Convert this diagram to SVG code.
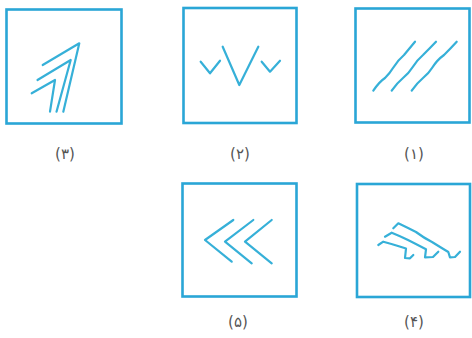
<svg xmlns="http://www.w3.org/2000/svg" width="472" height="338" viewBox="0 0 472 338">
<style>
.box{fill:#fff;stroke:#2aa6d6;stroke-width:2.6}
.ln{fill:none;stroke:#36b0d8;stroke-width:2.2;stroke-linecap:round;stroke-linejoin:round}
.lbl{font-family:"DejaVu Sans","Noto Sans",sans-serif;font-size:15px;fill:#555;text-anchor:middle}
</style>
<rect width="472" height="338" fill="#fff"/>
<g id="fig3">
<rect class="box" x="6.5" y="9.5" width="115" height="114"/>
<path class="ln" d="M42.7,65 L79.3,43.3 L63.3,111.7"/>
<path class="ln" d="M37.5,80 L70.7,60 L56.5,111.7"/>
<path class="ln" d="M31.7,93.3 L55,80 L50,111.7"/>
<text class="lbl" x="65" y="159">(۳)</text>
</g>
<g id="fig2">
<rect class="box" x="183.5" y="8" width="113" height="115"/>
<path class="ln" d="M200.7,61.7 L210,73.3 L220,60.7"/>
<path class="ln" d="M222.7,46.7 L239.3,85 L258.3,46.7"/>
<path class="ln" d="M261.7,61.7 L270,71.7 L280,60.7"/>
<text class="lbl" x="240" y="159">(۲)</text>
</g>
<g id="fig1">
<rect class="box" x="355.5" y="8.5" width="114" height="114"/>
<path class="ln" d="M373.3,90.7 Q379,82 385,78 Q390,73 393,68 Q398,60 404,55 Q409,49 415,41.7"/>
<path class="ln" d="M391.7,90.7 Q397,83 403,78 Q409,73 412,68 Q417,60 423,55 Q429,49 436,41.7"/>
<path class="ln" d="M411.7,90.7 Q417,83 423,78 Q429,73 432,68 Q437,60 444,55 Q450,49 456.7,41.7"/>
<text class="lbl" x="414" y="159">(۱)</text>
</g>
<g id="fig5">
<rect class="box" x="182.5" y="183.5" width="114" height="113"/>
<path class="ln" d="M233.3,220 L205,240 L231.7,261.7"/>
<path class="ln" d="M253.3,220 L225,241.7 L251.7,263.3"/>
<path class="ln" d="M271.7,220 L245,241.7 L271.7,263.3"/>
<text class="lbl" x="238" y="327">(۵)</text>
</g>
<g id="fig4">
<rect class="box" x="357" y="184" width="113" height="113"/>
<path class="ln" d="M378.3,245 L383.3,241.7 Q392,244 398,246 L406,248.5 L405,258 L410,258.3 L413.3,255"/>
<path class="ln" d="M385,236.7 L391.7,232.7 Q400,236 408,240 Q416,244 426,249.3 L425,257.3 L433,257 L438.3,251.7"/>
<path class="ln" d="M393.3,228.3 L398.3,223.3 Q408,228 416,232 Q424,238 432,242 Q440,247 448.3,252 L450,257.3 L455,257 L460,251.7"/>
<text class="lbl" x="414" y="327">(۴)</text>
</g>
</svg>
